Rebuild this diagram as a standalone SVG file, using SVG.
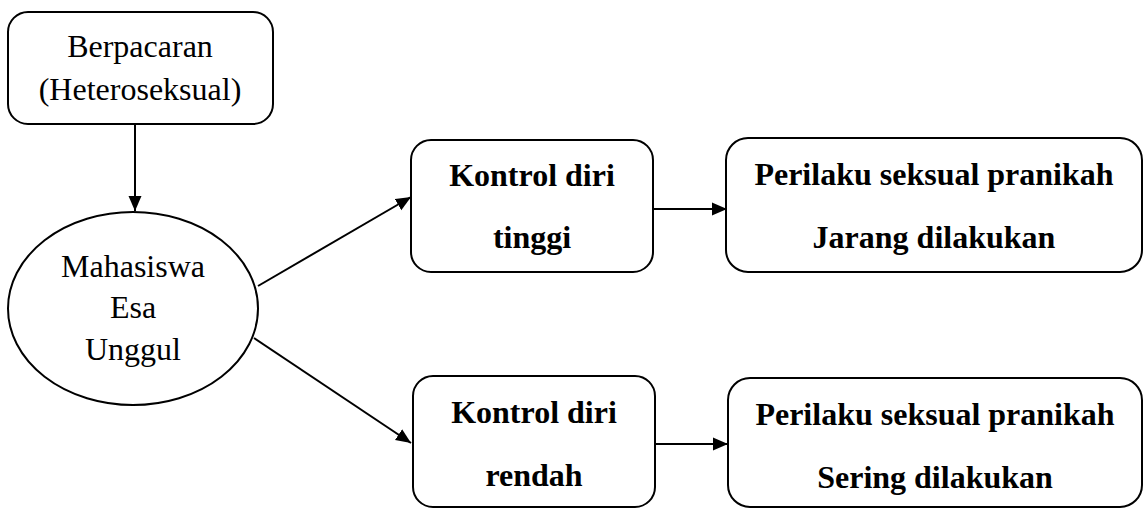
<svg xmlns="http://www.w3.org/2000/svg" width="1144" height="508" viewBox="0 0 1144 508">
<style>
.box{fill:#fff;stroke:#000;stroke-width:2}
.t{font-family:"Liberation Serif","Times New Roman",serif;font-size:32px;fill:#000;text-anchor:middle}
.b{font-weight:bold}
.c{stroke:#000;stroke-width:2;fill:none}
</style>
<defs>
<marker id="ah" markerUnits="userSpaceOnUse" markerWidth="16" markerHeight="14" refX="15" refY="7" orient="auto">
<path d="M0,0.5 L15,7 L0,13.5 z" fill="#000"/>
</marker>
</defs>
<rect width="1144" height="508" fill="#fff"/>
<g id="connectors">
<line class="c" x1="135" y1="124" x2="135" y2="211" marker-end="url(#ah)"/>
<line class="c" x1="258" y1="286" x2="411" y2="197" marker-end="url(#ah)"/>
<line class="c" x1="254" y1="338" x2="411" y2="443" marker-end="url(#ah)"/>
<line class="c" x1="653" y1="209" x2="727" y2="209" marker-end="url(#ah)"/>
<line class="c" x1="652" y1="444" x2="728" y2="444" marker-end="url(#ah)"/>
</g>
<g id="berpacaran">
<rect class="box" x="8" y="12" width="265" height="112" rx="20"/>
<text class="t" x="140" y="57">Berpacaran</text>
<text class="t" x="140" y="100">(Heteroseksual)</text>
</g>
<g id="mahasiswa">
<ellipse class="box" cx="133" cy="308.5" rx="125" ry="96.5"/>
<text class="t" x="133" y="277">Mahasiswa</text>
<text class="t" x="133" y="318">Esa</text>
<text class="t" x="133" y="360">Unggul</text>
</g>
<g id="kontrol-tinggi">
<rect class="box" x="411" y="140" width="242" height="132" rx="20"/>
<text class="t b" x="532" y="186">Kontrol diri</text>
<text class="t b" x="532" y="248">tinggi</text>
</g>
<g id="kontrol-rendah">
<rect class="box" x="413" y="376" width="242" height="131" rx="20"/>
<text class="t b" x="534" y="423">Kontrol diri</text>
<text class="t b" x="534" y="486">rendah</text>
</g>
<g id="jarang">
<rect class="box" x="726" y="138" width="416" height="134" rx="22"/>
<text class="t b" x="934" y="185">Perilaku seksual pranikah</text>
<text class="t b" x="934" y="248">Jarang dilakukan</text>
</g>
<g id="sering">
<rect class="box" x="728" y="378" width="414" height="129" rx="22"/>
<text class="t b" x="935" y="425">Perilaku seksual pranikah</text>
<text class="t b" x="935" y="488">Sering dilakukan</text>
</g>
</svg>
